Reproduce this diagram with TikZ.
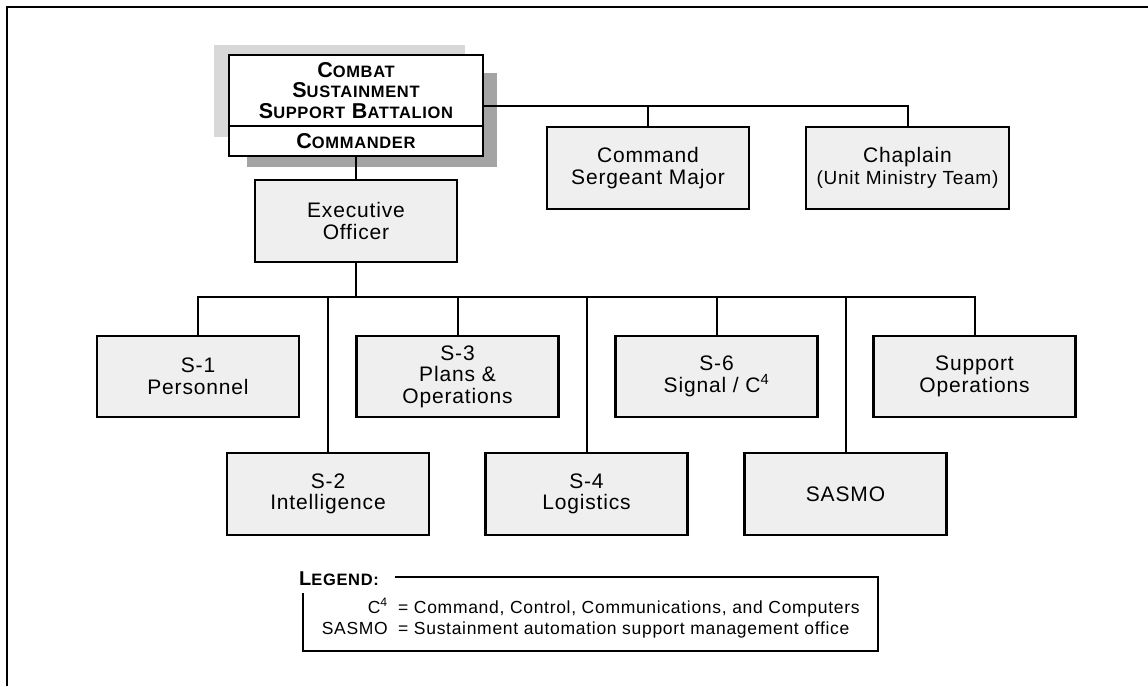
\documentclass[tikz,border=0pt]{standalone}
\usepackage{fontspec}
\setmainfont[LetterSpace=4]{Liberation Sans}
\usetikzlibrary{calc}
\definecolor{boxfill}{HTML}{EFEFEF}
\definecolor{shlight}{HTML}{D8D8D8}
\definecolor{shdark}{HTML}{A4A4A4}
\newcommand\bigsc[1]{{\fontsize{21.5}{21}\selectfont #1}}
\newcommand\smlsc[1]{{\fontsize{16.5}{21}\selectfont #1}}
\newcommand\bigleg[1]{{\fontsize{20}{20}\selectfont #1}}
\newcommand\smlleg[1]{{\fontsize{16.5}{20}\selectfont #1}}
\begin{document}
\begin{tikzpicture}[x=1pt,y=-1pt,
  unit/.style={draw=black, line width=2.2pt, fill=boxfill, minimum width=202pt, minimum height=81pt,
    inner sep=0pt, align=center, font=\fontsize{21}{21.5}\selectfont},
  cmdbox/.style={draw=black, line width=2.2pt, fill=white, minimum width=254pt, inner sep=0pt,
    align=center, font=\bfseries\fontsize{21}{20.7}\selectfont},
  conn/.style={line width=2pt},
  legtext/.style={font=\fontsize{17.5}{20}\selectfont, inner sep=0pt}]
\useasboundingbox (0,0) rectangle (1148,686);
% frame
\coordinate (f1) at (7,686);
\coordinate (f2) at (7,7);
\coordinate (f3) at (1148,7);
\draw[line width=2.5pt] (f1) -- (f2) -- (f3);
% shadows
\fill[shlight] (214,45) rectangle (465,137);
\fill[shdark] (247,73) rectangle (497,167);
% commander
\node[cmdbox, minimum height=71pt] (cmdtop) at (356,90.5)
  {\bigsc{C}\smlsc{OMBAT}\\\bigsc{S}\smlsc{USTAINMENT}\\\bigsc{S}\smlsc{UPPORT} \bigsc{B}\smlsc{ATTALION}};
\node[cmdbox, minimum height=30pt] (cmdbot) at (356,141) {\bigsc{C}\smlsc{OMMANDER}};
% staff
\node[unit, minimum height=82pt] (xo) at (356,221) {Executive\\Officer};
\node[unit, minimum height=82pt] (csm) at (648,168) {Command\\Sergeant Major};
\node[unit, minimum height=82pt, minimum width=203pt] (chap) at (907.5,168) {Chaplain\\{\fontsize{19}{21}\selectfont (Unit Ministry Team)}};
% row 1
\node[unit] (s1) at (198,376.5) {S-1\\Personnel};
\node[unit] (s3) at (457.5,376.5) {S-3\\Plans \&\\Operations};
\node[unit] (s6) at (716.5,376.5) {S-6\\Signal / C\textsuperscript{4}};
\node[unit] (sup) at (974.5,376.5) {Support\\Operations};
% row 2
\node[unit, minimum height=82pt] (s2) at (328,494) {S-2\\Intelligence};
\node[unit, minimum height=82pt] (s4) at (586.5,494) {S-4\\Logistics};
\node[unit, minimum height=82pt] (sasmo) at (845.5,494) {SASMO};
% connectors
\coordinate (hq) at (648,106);
\draw[conn] (cmdtop.east |- hq) -| (chap.north);
\draw[conn] (hq) -- (csm.north);
\draw[conn] (cmdbot.south) -- (xo.north);
\coordinate (bus) at (356,297);
\draw[conn] (xo.south) -- (bus);
\draw[conn] (s1.north) |- (sup.north |- bus) -- (sup.north);
\foreach \n in {s2,s3,s4,s6,sasmo}
  \draw[conn] (\n.north) -- (\n.north |- bus);
% legend
\node[anchor=base west, inner sep=0pt, font=\bfseries] (legt) at (299,585) {\bigleg{L}\smlleg{EGEND:}};
\coordinate (lg1) at (395,577);
\coordinate (lg2) at (878,577);
\coordinate (lg3) at (878,651);
\coordinate (lg4) at (303,651);
\coordinate (lg5) at (303,593);
\draw[line width=1.5pt] (lg1) -- (lg2) -- (lg3) -- (lg4) -- (lg5);
\node[legtext, anchor=base east] (k1) at (388,613) {C\textsuperscript{4}};
\node[legtext, anchor=base west] (v1) at (398,613) {= Command, Control, Communications, and Computers};
\node[legtext, anchor=base east] (k2) at (388,634) {SASMO};
\node[legtext, anchor=base west] (v2) at (398,634) {= Sustainment automation support management office};
\end{tikzpicture}
\end{document}
